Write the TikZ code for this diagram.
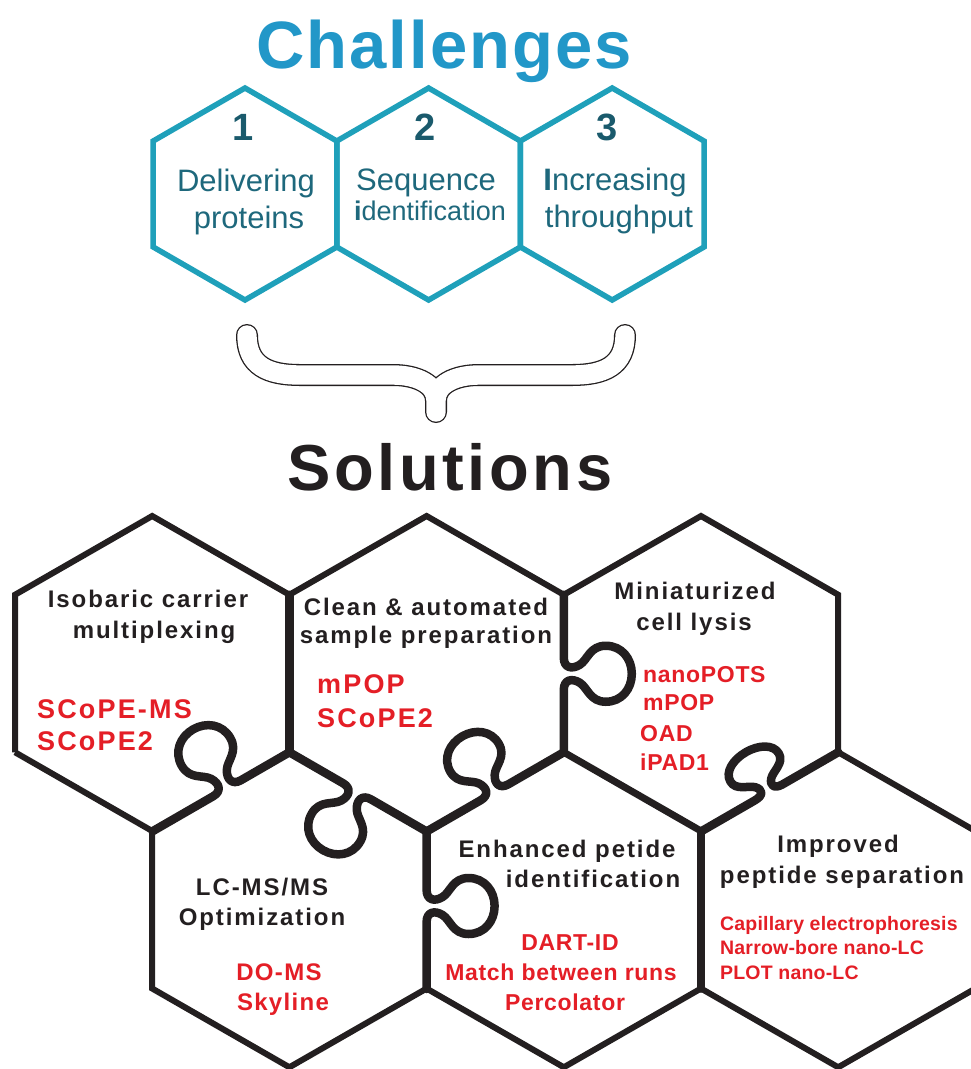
\documentclass[tikz,border=0pt]{standalone}
\usepackage{fontspec}
\setmainfont{Liberation Sans}
\newfontfamily\trackXS[LetterSpace=1]{Liberation Sans}
\newfontfamily\trackS[LetterSpace=3]{Liberation Sans}
\newfontfamily\trackM[LetterSpace=5.5]{Liberation Sans}
\newfontfamily\trackL[LetterSpace=8]{Liberation Sans}

\definecolor{titleblue}{RGB}{34,151,200}
\definecolor{hexteal}{RGB}{31,160,186}
\definecolor{hextext}{RGB}{30,104,124}
\definecolor{hexnum}{RGB}{26,90,108}
\definecolor{ink}{RGB}{35,31,32}
\definecolor{solred}{RGB}{228,30,38}

\tikzset{
  chalhex/.style={draw=hexteal, line width=5.5pt, line join=miter},
  piece/.style={draw=ink, line width=6pt, line join=miter},
  joint/.style={draw=ink, line width=8.5pt, line cap=round, line join=round},
  txt/.style={draw=none, inner sep=0pt, anchor=base},
  chalnum/.style={txt, text=hexnum, font=\bfseries\fontsize{38}{40}\selectfont},
  chaltxt/.style={txt, text=hextext, font=\fontsize{31}{35}\selectfont},
  lbl/.style={txt, text=ink, font=\trackL\bfseries\fontsize{24}{28}\selectfont},
  redL/.style={txt, text=solred, anchor=base west, font=\trackL\bfseries\fontsize{27}{30}\selectfont},
  redM/.style={txt, text=solred, font=\trackM\bfseries\fontsize{24}{28}\selectfont},
  redS/.style={txt, text=solred, font=\trackS\bfseries\fontsize{23}{26}\selectfont},
  redXS/.style={txt, text=solred, anchor=base west, font=\trackXS\bfseries\fontsize{19.5}{24}\selectfont}
}

% hexagon of the challenge row: centre x, centre y
\newcommand{\chalhex}[2]{%
  \draw[chalhex] (#1,#2-106) -- (#1+91.8,#2-53) -- (#1+91.8,#2+53) -- (#1,#2+106)
    -- (#1-91.8,#2+53) -- (#1-91.8,#2-53) -- cycle;}

% puzzle edge with a tab: start, angle, side, neck position, height factor
\newcommand{\knob}[5]{%
  \draw[joint, shift={#1}, rotate=#2, yscale=#3]
    (0,0) -- (#4-16,0)
    .. controls (#4-6,0) and (#4-4,8*#5) .. (#4-9,16*#5)
    .. controls (#4-14,24*#5) and (#4-28,26*#5) .. (#4-28,42*#5)
    .. controls (#4-28,58*#5) and (#4-15,68*#5) .. (#4,68*#5)
    .. controls (#4+15,68*#5) and (#4+28,58*#5) .. (#4+28,42*#5)
    .. controls (#4+28,26*#5) and (#4+14,24*#5) .. (#4+9,16*#5)
    .. controls (#4+4,8*#5) and (#4+6,0) .. (#4+16,0)
    -- (158,0);}

\begin{document}
\begin{tikzpicture}[x=1pt,y=-1pt]
  \useasboundingbox (0,0) rectangle (971,1069);
  \clip (0,0) rectangle (971,1069);

  % challenges
  \node[txt, text=titleblue, font=\trackS\bfseries\fontsize{67}{70}\selectfont] (ttl) at (444,68) {Challenges};

  \chalhex{245}{194}
  \chalhex{428.6}{194}
  \chalhex{612.2}{194}

  \node[chalnum] (n1) at (243,140) {1};
  \node[chalnum] (n2) at (425,140) {2};
  \node[chalnum] (n3) at (607,140) {3};

  \node[chaltxt] (c1a) at (246,191) {Delivering};
  \node[chaltxt] (c1b) at (249,228) {proteins};
  \node[chaltxt] (c2a) at (426,190) {Sequence};
  \node[chaltxt, font=\fontsize{27}{30}\selectfont] (c2b) at (430,220) {\textbf{i}dentification};
  \node[chaltxt] (c3a) at (615,190) {\textbf{I}ncreasing};
  \node[chaltxt] (c3b) at (619,227) {throughput};

  % brace
  \draw[white, line width=19.4pt, line cap=round, line join=round,
        preaction={draw=ink, line width=22pt, line cap=round, line join=round}]
    (247,335) .. controls (247,366) and (268,375) .. (300,375) -- (393,375)
      .. controls (418,375) and (436,385) .. (436,400) -- (436,412)
    (625,335) .. controls (625,366) and (604,375) .. (572,375) -- (479,375)
      .. controls (454,375) and (436,385) .. (436,400) -- (436,412);

  \node[txt, text=ink, font=\trackM\bfseries\fontsize{65}{68}\selectfont] (sol) at (450,490) {Solutions};

  % puzzle
  \draw[piece] (15,752.25) -- (15,594.75) -- (152.2,516) -- (289.4,594.75) -- (426.6,516)
    -- (563.8,594.75) -- (701,516) -- (838.2,594.75) -- (838.2,752.25) -- (975.4,831);
  \draw[piece] (15,752.25) -- (152.2,831) -- (152.2,988.5) -- (289.4,1067.25) -- (426.6,988.5)
    -- (563.8,1067.25) -- (701,988.5) -- (838.2,1067.25) -- (975.4,988.5);

  \draw[joint] (289.4,594.75) -- (289.4,752.25);
  \draw[joint, line width=7pt] (563.8,752.25) -- (701,831);
  \draw[joint] (701,831) -- (701,988.5);

  \knob{(563.8,594.75)}{-90}{-1}{79}{1}
  \knob{(289.4,752.25)}{-150}{1}{72}{1}
  \knob{(289.4,752.25)}{-30}{1}{78}{1}
  \knob{(563.8,752.25)}{-150}{1}{80}{0.95}
  \knob{(838.2,752.25)}{-150}{1}{80}{0.68}
  \knob{(426.6,831)}{-90}{-1}{75}{1}

  % labels
  \node[lbl] (a1) at (148,607) {Isobaric carrier};
  \node[lbl] (a2) at (154,638) {multiplexing};
  \node[redL] (a3) at (37,718) {SCoPE-MS};
  \node[redL] (a4) at (37,750) {SCoPE2};

  \node[lbl] (b1) at (426,615) {Clean \& automated};
  \node[lbl] (b2) at (426,643) {sample preparation};
  \node[redL] (b3) at (317,693) {mPOP};
  \node[redL] (b4) at (317,727) {SCoPE2};

  \node[lbl] (c1) at (695,599) {Miniaturized};
  \node[lbl] (c2) at (694,630) {cell lysis};
  \node[redS, anchor=base west] (c3) at (643,682) {nanoPOTS};
  \node[redS, anchor=base west] (c4) at (643,710) {mPOP};
  \node[redS, anchor=base west] (c5) at (640,741) {OAD};
  \node[redS, anchor=base west] (c6) at (640,770) {iPAD1};

  \node[lbl] (d1) at (262,895) {LC-MS/MS};
  \node[lbl] (d2) at (262,925) {Optimization};
  \node[redM] (d3) at (279,980) {DO-MS};
  \node[redM] (d4) at (283,1010) {Skyline};

  \node[lbl] (e1) at (567,857) {Enhanced petide};
  \node[lbl] (e2) at (593,887) {identification};
  \node[redS] (e3) at (570,950) {DART-ID};
  \node[redS] (e4) at (561,980) {Match between runs};
  \node[redS] (e5) at (565,1010) {Percolator};

  \node[lbl] (f1) at (838,852) {Improved};
  \node[lbl] (f2) at (842,883) {peptide separation};
  \node[redXS] (f3) at (720,930) {Capillary electrophoresis};
  \node[redXS] (f4) at (720,954) {Narrow-bore nano-LC};
  \node[redXS] (f5) at (720,979) {PLOT nano-LC};

\end{tikzpicture}
\end{document}
